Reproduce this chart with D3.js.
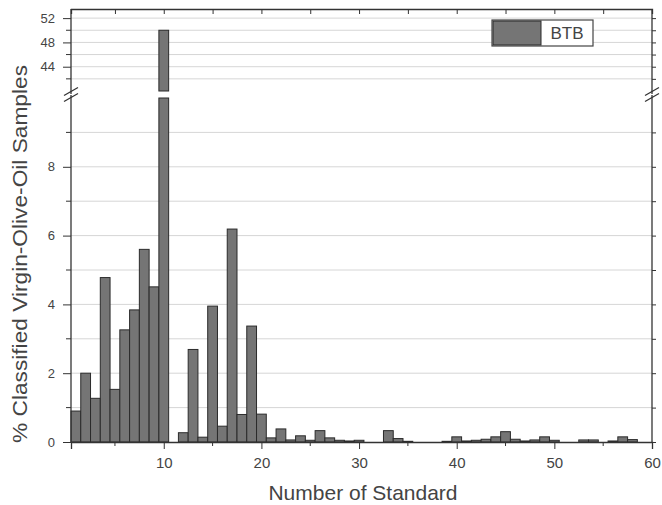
<!DOCTYPE html>
<html>
<head>
<meta charset="utf-8">
<script src="https://cdn.jsdelivr.net/npm/d3@7"></script>
<style>
  html, body { margin: 0; padding: 0; background: #fff; }
  svg { display: block; font-family: "Liberation Sans", Arial, sans-serif; }
</style>
</head>
<body>
<svg id="chart" width="662" height="505"></svg>
<script>
// Standard numbers 1..60 and the share of samples classified to each (%)
const standards = d3.range(1, 61);
const percentBTB = [
  0.9, 2.0, 1.27, 4.78, 1.53, 3.26, 3.84, 5.6, 4.51, 50.0,
  0, 0.27, 2.69, 0.14, 3.95, 0.46, 6.19, 0.8, 3.37, 0.81,
  0.12, 0.38, 0.06, 0.18, 0.05, 0.33, 0.12, 0.05, 0.03, 0.05,
  0, 0, 0.33, 0.1, 0.02, 0, 0, 0, 0.02, 0.15,
  0.03, 0.05, 0.08, 0.15, 0.3, 0.08, 0.03, 0.06, 0.15, 0.05,
  0, 0, 0.06, 0.06, 0, 0.03, 0.15, 0.07, 0, 0
];
const seriesName = "BTB";
const xTickValues = [10, 20, 30, 40, 50, 60];
const xMinorTicks = [5, 15, 25, 35, 45, 55];
const lowerTickLabels = [0, 2, 4, 6, 8];
const lowerGrid = [1, 2, 3, 4, 5, 6, 7, 8, 9];
const upperTickLabels = [44, 48, 52];
const upperGrid = [42, 44, 46, 48, 50, 52];
const xTitle = "Number of Standard";
const yTitle = "% Classified Virgin-Olive-Oil Samples";

const svg = d3.select("#chart");
const pLeft = 71, pRight = 652, pTop = 9, pBottom = 442;
const lowerTop = 98, upperBottom = 91;

const x = d3.scaleLinear().domain([0.5, 60]).range([pLeft, pRight]);
const yLow = d3.scaleLinear().domain([0, 10]).range([pBottom, lowerTop]);
const yUp = d3.scaleLinear().domain([40, 53.5]).range([upperBottom, pTop]);

const axisColor = "#333";
const textColor = "#444";
const gridColor = "#d6d6d6";
const barFill = "#757575";
const barStroke = "#2b2b2b";

// horizontal grid lines in both panels
const grid = svg.append("g");
grid.selectAll("line.low").data(lowerGrid).join("line")
  .attr("x1", pLeft).attr("x2", pRight)
  .attr("y1", d => yLow(d)).attr("y2", d => yLow(d))
  .attr("stroke", gridColor).attr("stroke-width", 1);
grid.selectAll("line.up").data(upperGrid).join("line")
  .attr("x1", pLeft).attr("x2", pRight)
  .attr("y1", d => yUp(d)).attr("y2", d => yUp(d))
  .attr("stroke", gridColor).attr("stroke-width", 1);

// bars: each value is drawn in the lower panel (clipped at 10) and,
// when it exceeds 40, continued in the upper panel
const data = standards.map((s, i) => ({ s, v: percentBTB[i] })).filter(d => d.v > 0);
const bw = x(1.5) - x(0.5);
const bars = svg.append("g");
bars.selectAll("rect.low").data(data).join("rect")
  .attr("x", d => x(d.s - 0.5))
  .attr("width", bw)
  .attr("y", d => yLow(Math.min(d.v, 10)))
  .attr("height", d => yLow(0) - yLow(Math.min(d.v, 10)))
  .attr("fill", barFill).attr("stroke", barStroke).attr("stroke-width", 1);
bars.selectAll("rect.up").data(data.filter(d => d.v > 40)).join("rect")
  .attr("x", d => x(d.s - 0.5))
  .attr("width", bw)
  .attr("y", d => yUp(d.v))
  .attr("height", d => yUp(40) - yUp(d.v))
  .attr("fill", barFill).attr("stroke", barStroke).attr("stroke-width", 1);

// bottom axis
const xAxis = svg.append("g").attr("transform", `translate(0,${pBottom})`)
  .call(d3.axisBottom(x).tickValues(xTickValues).tickSize(7).tickPadding(8));
xAxis.append("g").selectAll("line").data(xMinorTicks).join("line")
  .attr("x1", d => x(d)).attr("x2", d => x(d)).attr("y1", 0).attr("y2", 4)
  .attr("stroke", axisColor);
// top axis (ticks only)
const xTop = svg.append("g").attr("transform", `translate(0,${pTop})`)
  .call(d3.axisTop(x).tickValues(xTickValues.concat(xMinorTicks)).tickSize(-5).tickFormat(""));

// left axis, two segments
const yAxisLow = svg.append("g").attr("transform", `translate(${pLeft},0)`)
  .call(d3.axisLeft(yLow).tickValues(lowerTickLabels).tickSize(8).tickPadding(8));
yAxisLow.append("g").selectAll("line").data(lowerGrid.filter(d => d % 2)).join("line")
  .attr("x1", -5).attr("x2", 0).attr("y1", d => yLow(d)).attr("y2", d => yLow(d))
  .attr("stroke", axisColor);
const yAxisUp = svg.append("g").attr("transform", `translate(${pLeft},0)`)
  .call(d3.axisLeft(yUp).tickValues(upperTickLabels).tickSize(8).tickPadding(8));
yAxisUp.append("g").selectAll("line").data(upperGrid.filter(d => d % 4 !== 0)).join("line")
  .attr("x1", -5).attr("x2", 0).attr("y1", d => yUp(d)).attr("y2", d => yUp(d))
  .attr("stroke", axisColor);

// right axis, two segments with ticks
const yRightLow = svg.append("g").attr("transform", `translate(${pRight},0)`)
  .call(d3.axisRight(yLow).tickValues(lowerGrid.concat([0])).tickSize(4).tickFormat(""));
const yRightUp = svg.append("g").attr("transform", `translate(${pRight},0)`)
  .call(d3.axisRight(yUp).tickValues(upperGrid).tickSize(4).tickFormat(""));

// replace the axis domain paths so the break gap stays open
[yAxisLow, yAxisUp, yRightLow, yRightUp].forEach(g => g.select(".domain").remove());
[pLeft, pRight].forEach(cx => {
  svg.append("line").attr("x1", cx).attr("x2", cx).attr("y1", lowerTop - 3).attr("y2", pBottom)
    .attr("stroke", axisColor).attr("stroke-width", 1.3);
  svg.append("line").attr("x1", cx).attr("x2", cx).attr("y1", pTop).attr("y2", upperBottom + 3)
    .attr("stroke", axisColor).attr("stroke-width", 1.3);
});

// break marks
const breakY = (upperBottom + lowerTop) / 2;
[pLeft, pRight].forEach(cx => {
  [-3, 3].forEach(off => {
    svg.append("line")
      .attr("x1", cx - 7).attr("y1", breakY + off + 4)
      .attr("x2", cx + 7).attr("y2", breakY + off - 4)
      .attr("stroke", axisColor).attr("stroke-width", 1.2);
  });
});

// axis styling
svg.selectAll(".domain").attr("stroke", axisColor).attr("stroke-width", 1.3);
svg.selectAll(".tick line").attr("stroke", axisColor);
xAxis.selectAll(".tick text").attr("font-size", 15).attr("fill", textColor);
[yAxisLow, yAxisUp].forEach(g => g.selectAll(".tick text").attr("font-size", 13).attr("fill", textColor));
svg.selectAll("g").attr("font-family", null);

// axis titles
svg.append("text")
  .attr("x", 363).attr("y", 500)
  .attr("text-anchor", "middle")
  .attr("font-size", 21).attr("fill", textColor)
  .text(xTitle);
svg.append("text")
  .attr("transform", "translate(27,254) rotate(-90)")
  .attr("text-anchor", "middle")
  .attr("font-size", 20).attr("fill", textColor)
  .attr("textLength", 378).attr("lengthAdjust", "spacingAndGlyphs")
  .text(yTitle);

// legend
const lg = svg.append("g").attr("transform", "translate(492,20)");
lg.append("rect").attr("width", 101).attr("height", 26)
  .attr("fill", "#fff").attr("stroke", "#444").attr("stroke-width", 1.2);
lg.append("rect").attr("x", 1).attr("y", 1).attr("width", 48).attr("height", 24)
  .attr("fill", barFill).attr("stroke", barStroke);
lg.append("text").attr("x", 75).attr("y", 19)
  .attr("text-anchor", "middle").attr("font-size", 17).attr("fill", textColor)
  .text(seriesName);
</script>
</body>
</html>
